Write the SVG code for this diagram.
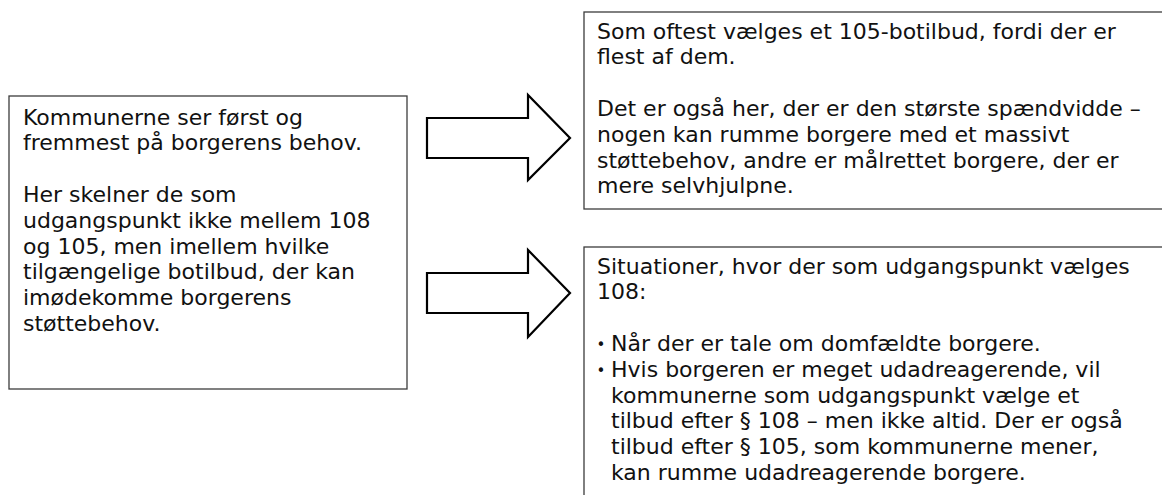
<svg xmlns="http://www.w3.org/2000/svg" width="1162" height="495" viewBox="0 0 1162 495">
<style>
.box{fill:#ffffff;stroke:#3c3c3c;stroke-width:1.3}
.arrow{fill:#ffffff;stroke:#000000;stroke-width:2.2;stroke-linejoin:miter}
text{font-family:"DejaVu Sans",Verdana,sans-serif;font-size:22px;fill:#111111}
text.bullet{font-size:15px;text-anchor:middle}
</style>
<rect width="1162" height="495" fill="#ffffff"/>
<g id="left-box">
<rect class="box" x="9" y="96" width="398" height="293"/>
<text x="23" y="124.5">Kommunerne ser først og</text>
<text x="23" y="150.3">fremmest på borgerens behov.</text>
<text x="23" y="201.9">Her skelner de som</text>
<text x="23" y="227.7">udgangspunkt ikke mellem 108</text>
<text x="23" y="253.5">og 105, men imellem hvilke</text>
<text x="23" y="279.3">tilgængelige botilbud, der kan</text>
<text x="23" y="305.1">imødekomme borgerens</text>
<text x="23" y="330.9">støttebehov.</text>
</g>
<g id="top-box">
<rect class="box" x="584" y="12" width="600" height="197"/>
<text x="597" y="38.5">Som oftest vælges et 105-botilbud, fordi der er</text>
<text x="597" y="64.3">flest af dem.</text>
<text x="597" y="115.9">Det er også her, der er den største spændvidde –</text>
<text x="597" y="141.7">nogen kan rumme borgere med et massivt</text>
<text x="597" y="167.5">støttebehov, andre er målrettet borgere, der er</text>
<text x="597" y="193.3">mere selvhjulpne.</text>
</g>
<g id="bottom-box">
<rect class="box" x="584" y="247" width="600" height="270"/>
<text x="597" y="273.5">Situationer, hvor der som udgangspunkt vælges</text>
<text x="597" y="299.3">108:</text>
<text class="bullet" x="601" y="350">•</text>
<text x="611" y="350.9">Når der er tale om domfældte borgere.</text>
<text class="bullet" x="601" y="375.8">•</text>
<text x="611" y="376.7">Hvis borgeren er meget udadreagerende, vil</text>
<text x="611" y="402.5">kommunerne som udgangspunkt vælge et</text>
<text x="611" y="428.3">tilbud efter § 108 – men ikke altid. Der er også</text>
<text x="611" y="454.1">tilbud efter § 105, som kommunerne mener,</text>
<text x="611" y="479.9">kan rumme udadreagerende borgere.</text>
</g>
<g id="connectors">
<polygon id="arrow-top" class="arrow" points="427,118 528,118 528,95 570,138 528,180 528,158 427,158"/>
<polygon id="arrow-bottom" class="arrow" points="427,273 528,273 528,250 570,293 528,337 528,313 427,313"/>
</g>
</svg>
